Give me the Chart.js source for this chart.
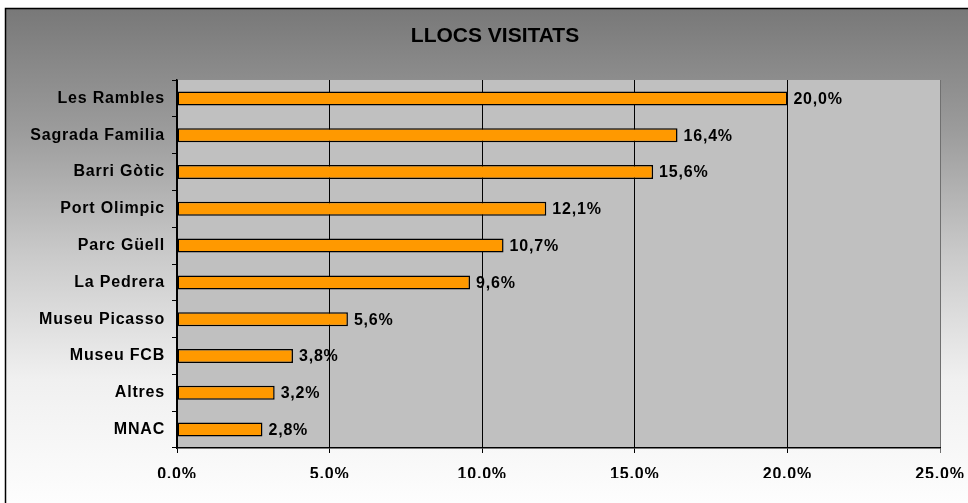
<!DOCTYPE html>
<html>
<head>
<meta charset="utf-8">
<script src="https://cdn.jsdelivr.net/npm/chart.js@4"></script>
<style>
  html, body { margin: 0; padding: 0; background: #ffffff; }
  #wrap { width: 968px; height: 503px; }
</style>
</head>
<body>
<div id="wrap"><canvas id="placesChart" width="968" height="503"></canvas></div>
<script>
const places = [
  "Les Rambles", "Sagrada Familia", "Barri Gòtic", "Port Olimpic", "Parc Güell",
  "La Pedrera", "Museu Picasso", "Museu FCB", "Altres", "MNAC"
];
const percentages = [20.0, 16.4, 15.6, 12.1, 10.7, 9.6, 5.6, 3.8, 3.2, 2.8];
const xTicks = [0, 5, 10, 15, 20, 25];
const xTickLabels = ["0,0%", "5,0%", "10,0%", "15,0%", "20,0%", "25,0%"];
const chartTitle = "LLOCS VISITATS";

function formatPercent(value) {
  return value.toFixed(1).replace(".", ",") + "%";
}

const FONT = "'Liberation Sans', Arial, sans-serif";

const backgroundPlugin = {
  id: "background",
  beforeDraw(chart) {
    const ctx = chart.ctx;
    const area = chart.chartArea;
    ctx.save();
    const grad = ctx.createLinearGradient(0, 8, 0, 503);
    grad.addColorStop(0, "#787878");
    grad.addColorStop(0.25, "#9c9c9c");
    grad.addColorStop(0.5, "#cacaca");
    grad.addColorStop(0.75, "#f0f0f0");
    grad.addColorStop(1, "#fdfdfd");
    ctx.fillStyle = "#ffffff";
    ctx.fillRect(0, 0, chart.width, chart.height);
    ctx.fillStyle = grad;
    ctx.fillRect(5, 8, chart.width - 5, chart.height - 8);
    ctx.strokeStyle = "#000000";
    ctx.lineWidth = 1.5;
    ctx.beginPath();
    ctx.moveTo(5.5, chart.height + 2);
    ctx.lineTo(5.5, 8.5);
    ctx.lineTo(chart.width + 2, 8.5);
    ctx.stroke();
    ctx.fillStyle = "#c0c0c0";
    ctx.fillRect(area.left, area.top, area.right - area.left, area.bottom - area.top);

    // title
    ctx.font = "bold 21px " + FONT;
    ctx.fillStyle = "#000000";
    ctx.textAlign = "center";
    ctx.textBaseline = "middle";
    ctx.fillText(chartTitle, 495, 36);
    ctx.restore();
    // wider spacing for the axis labels, like the original
    ctx.letterSpacing = "0.8px";
  }
};

const valueLabelPlugin = {
  id: "valueLabels",
  afterDatasetsDraw(chart) {
    const ctx = chart.ctx;
    const meta = chart.getDatasetMeta(0);
    ctx.save();
    ctx.font = "bold 16px " + FONT;
    ctx.letterSpacing = "0.8px";
    ctx.fillStyle = "#000000";
    ctx.textAlign = "left";
    ctx.textBaseline = "middle";
    meta.data.forEach((bar, i) => {
      ctx.fillText(formatPercent(percentages[i]), bar.x + 6, bar.y + 1);
    });
    ctx.restore();
  }
};

new Chart(document.getElementById("placesChart"), {
  type: "bar",
  data: {
    labels: places,
    datasets: [
      {
        label: "Llocs visitats",
        data: percentages,
        backgroundColor: "#ff9900",
        borderColor: "#000000",
        borderWidth: 1.5,
        borderSkipped: false,
        categoryPercentage: 1,
        barPercentage: 0.38,
      },
    ],
  },
  options: {
    responsive: false,
    animation: false,
    indexAxis: "y",
    layout: {
      padding: { left: 20, right: 28, top: 80, bottom: 25 },
    },
    plugins: {
      legend: { display: false },
      tooltip: { enabled: false },
      title: { display: false },
    },
    scales: {
      x: {
        min: 0,
        max: 25,
        afterBuildTicks(scale) {
          scale.ticks = xTicks.map((v) => ({ value: v }));
        },
        afterFit(scale) {
          scale.height = 30;
          scale.paddingLeft = 0;
          scale.paddingRight = 0;
        },
        ticks: {
          color: "#000000",
          font: { family: FONT, size: 16, weight: "bold" },
          padding: 12,
          maxRotation: 0,
          callback: (value, index) => xTickLabels[index],
        },
        grid: {
          color: (ctx) => (ctx.tick && ctx.tick.value === 25 ? "#707070" : "#000000"),
          lineWidth: 1,
          tickLength: 5,
        },
        border: { color: "#000000", width: 1.5 },
      },
      y: {
        afterFit(scale) {
          scale.width = 157;
        },
        ticks: {
          color: "#000000",
          font: { family: FONT, size: 16, weight: "bold" },
          padding: 7,
        },
        grid: {
          display: true,
          drawOnChartArea: false,
          drawTicks: true,
          tickLength: 5,
          color: "#000000",
          offset: true,
        },
        border: { color: "#000000", width: 1.5 },
      },
    },
  },
  plugins: [backgroundPlugin, valueLabelPlugin],
});
</script>
</body>
</html>
